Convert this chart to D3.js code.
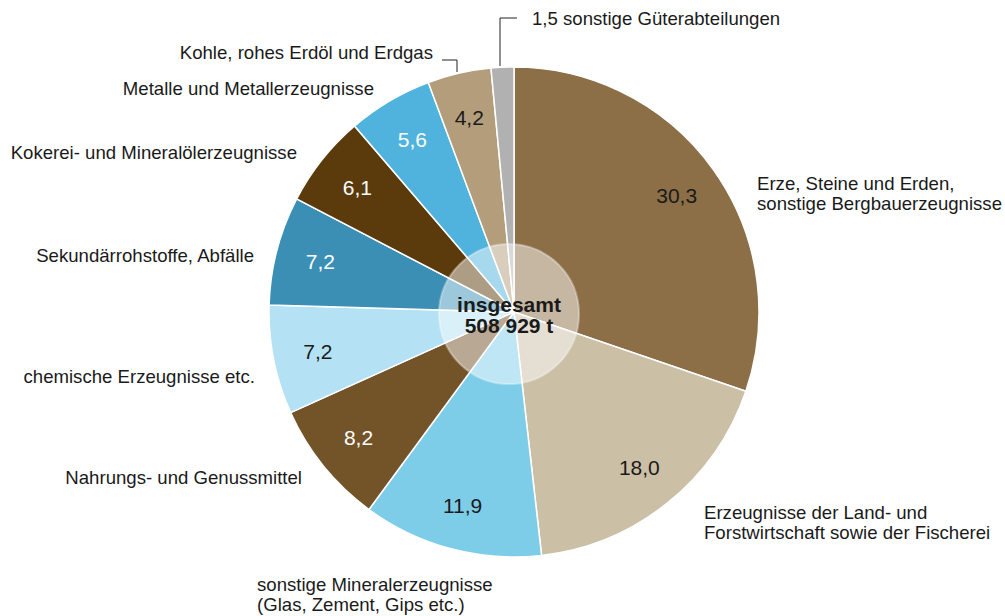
<!DOCTYPE html>
<html>
<head>
<meta charset="utf-8">
<script src="https://cdn.jsdelivr.net/npm/d3@7"></script>
<style>
  body { margin: 0; background: #fff; }
  text { font-family: "Liberation Sans", Arial, sans-serif; fill: #1a1a1a; }
</style>
</head>
<body>
<div id="chart"></div>
<script>
const categories = [
  "Erze, Steine und Erden,|sonstige Bergbauerzeugnisse",
  "Erzeugnisse der Land- und|Forstwirtschaft sowie der Fischerei",
  "sonstige Mineralerzeugnisse|(Glas, Zement, Gips etc.)",
  "Nahrungs- und Genussmittel",
  "chemische Erzeugnisse etc.",
  "Sekundärrohstoffe, Abfälle",
  "Kokerei- und Mineralölerzeugnisse",
  "Metalle und Metallerzeugnisse",
  "Kohle, rohes Erdöl und Erdgas",
  "sonstige Güterabteilungen"
];
const shares = [30.3, 18.0, 11.9, 8.2, 7.2, 7.2, 6.1, 5.6, 4.2, 1.5];
const totalTonnes = 508929;
const colors = ["#8c6e47", "#cbbfa6", "#7ecde8", "#735328", "#b4e1f3",
                "#3b8fb4", "#5b3b0b", "#4fb3dd", "#b39d7b", "#b1b1b1"];

// label layout: [x, y of first baseline, anchor]
const labelLayout = [
  [757, 190, "start"],
  [704, 519, "start"],
  [257, 591, "start"],
  [302, 484, "end"],
  [255, 383, "end"],
  [254, 262, "end"],
  [297, 159, "end"],
  [374, 95, "end"],
  [433, 59, "end"],
  [532, 25, "start"]
];

const width = 1005, height = 616;
const cx = 514, cy = 312, radius = 245;

const loc = d3.formatLocale({ decimal: ",", thousands: " ", grouping: [3], currency: ["", ""] });
const fmtShare = loc.format(".1f");
const fmtTotal = loc.format(",d");

const svg = d3.select("#chart").append("svg")
  .attr("width", width).attr("height", height);

const g = svg.append("g").attr("transform", `translate(${cx},${cy})`);

const pie = d3.pie().sort(null).value(d => d);
const arcs = pie(shares);
const arc = d3.arc().innerRadius(0).outerRadius(radius);
const labelArc = d3.arc().innerRadius(200).outerRadius(200);

g.selectAll("path.slice")
  .data(arcs)
  .enter().append("path")
  .attr("class", "slice")
  .attr("d", arc)
  .attr("fill", (d, i) => colors[i])
  .attr("stroke", "#fff")
  .attr("stroke-width", 1.5);

// value labels inside slices (not for the smallest one)
g.selectAll("text.val")
  .data(arcs.filter((d, i) => i < shares.length - 1))
  .enter().append("text")
  .attr("class", "val")
  .attr("transform", d => `translate(${labelArc.centroid(d)})`)
  .attr("text-anchor", "middle")
  .attr("dy", "0.36em")
  .style("font-size", "21px")
  .style("fill", (d, i) => [3, 5, 6, 7].includes(i) ? "#fff" : "#1a1a1a")
  .text(d => fmtShare(d.data));

// centre disc
svg.append("circle")
  .attr("cx", 509).attr("cy", 314).attr("r", 70)
  .attr("fill", "#fff").attr("fill-opacity", 0.5)
  .attr("stroke", "#fff").attr("stroke-opacity", 0.35).attr("stroke-width", 2);

svg.append("text")
  .attr("x", 509).attr("y", 312)
  .attr("text-anchor", "middle")
  .style("font-size", "21px").style("font-weight", "bold")
  .text("insgesamt");
svg.append("text")
  .attr("x", 509).attr("y", 333)
  .attr("text-anchor", "middle")
  .style("font-size", "21px").style("font-weight", "bold")
  .text(fmtTotal(totalTonnes) + " t");

// category labels
categories.forEach((c, i) => {
  const [x, y, anchor] = labelLayout[i];
  let lines = c.split("|");
  if (i === shares.length - 1) lines = [fmtShare(shares[i]) + " " + c];
  const t = svg.append("text")
    .attr("x", x).attr("y", y)
    .attr("text-anchor", anchor)
    .style("font-size", "18.6px");
  lines.forEach((l, j) => {
    t.append("tspan").attr("x", x).attr("dy", j === 0 ? 0 : 20).text(l);
  });
});

// leader lines for the two small slices
const leader = d3.line();
svg.append("path")
  .attr("d", leader([[500, 66], [500, 18], [517, 18]]))
  .attr("fill", "none").attr("stroke", "#222").attr("stroke-width", 1);
svg.append("path")
  .attr("d", leader([[442, 60], [457, 60], [457, 72]]))
  .attr("fill", "none").attr("stroke", "#222").attr("stroke-width", 1);
</script>
</body>
</html>
